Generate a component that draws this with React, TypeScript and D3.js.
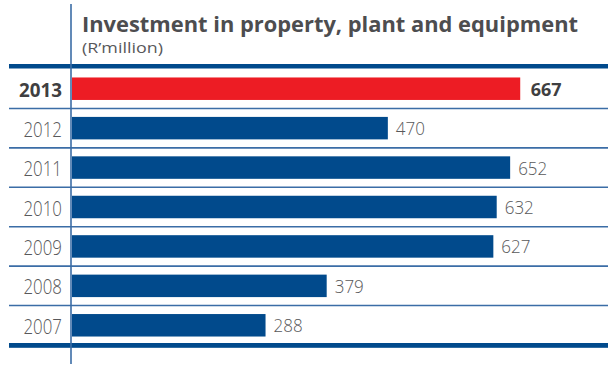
import React from "react";
import * as d3 from "d3";

const years = ["2013", "2012", "2011", "2010", "2009", "2008", "2007"];
const values = [667, 470, 652, 632, 627, 379, 288];
const highlight = ["2013"];
const title = "Investment in property, plant and equipment";
const subtitle = "(R\u2019million)";

const W = 608;
const H = 378;
const BLUE = "#014a8c";
const RED = "#ed1c24";
const LINE = "#3b6da6";
const FONT = "'Open Sans', 'Noto Sans', sans-serif";

export default function App() {
  const y = d3.scaleBand<string>().domain(years).range([69, 345]).paddingInner(0.43).paddingOuter(0.215);
  const x = d3.scaleLinear().domain([0, 700]).range([72, 72 + 700 * 0.672]);
  const step = y.step();
  const r0 = 69;
  const separators = years.slice(1).map((_, i) => r0 + step * (i + 1));

  return (
    <svg width={W} height={H} style={{ position: "absolute", left: 0, top: 0, background: "#fff" }}>
      <rect x={0} y={0} width={W} height={H} fill="#fff" />
      {/* title */}
      <text x={82} y={32} fontFamily={FONT} fontWeight={700} fontSize={21.5} fill="#4d4d4f"
        textLength={496} lengthAdjust="spacingAndGlyphs">{title}</text>
      <text x={82} y={53} fontFamily={FONT} fontWeight={400} fontSize={14} fill="#58585a"
        textLength={81} lengthAdjust="spacingAndGlyphs">{subtitle}</text>
      {/* thick rules */}
      <rect x={9} y={64} width={W - 9} height={4.5} fill={BLUE} />
      <rect x={9} y={343} width={W - 9} height={4.8} fill={BLUE} />
      {/* separators */}
      {separators.map((s, i) => (
        <line key={i} x1={9} x2={W} y1={s} y2={s} stroke={LINE} strokeWidth={1.6} />
      ))}
      {/* bars */}
      {years.map((yr, i) => {
        const hl = highlight.includes(yr);
        const by = y(yr)!;
        const cy = by + y.bandwidth() / 2;
        const vs = String(values[i]);
        return (
          <g key={yr}>
            <rect x={x(0)} y={by} width={x(values[i]) - x(0)} height={y.bandwidth()} fill={hl ? RED : BLUE} />
            <text x={62} y={cy + 8.5} textAnchor="end" fontFamily={FONT} fontSize={hl ? 19.5 : 20}
              fontWeight={hl ? 700 : 300} fill={hl ? "#3f3f41" : "#58585a"}
              textLength={hl ? 43 : 38.5} lengthAdjust="spacingAndGlyphs">{yr}</text>
            <text x={x(values[i]) + (hl ? 10.5 : 8)} y={cy + 7} fontFamily={FONT} fontSize={18.5}
              fontWeight={hl ? 700 : 300} fill={hl ? "#3f3f41" : "#58585a"}
              textLength={vs.length * (hl ? 10.3 : 9.7)} lengthAdjust="spacingAndGlyphs">{vs}</text>
          </g>
        );
      })}
      {/* vertical axis */}
      <line x1={71} x2={71} y1={4} y2={364} stroke={LINE} strokeWidth={1.6} />
    </svg>
  );
}
